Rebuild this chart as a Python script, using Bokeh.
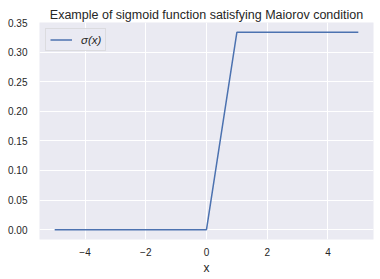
from bokeh.plotting import figure
from bokeh.embed import file_html
from bokeh.resources import INLINE
from bokeh.models import FixedTicker, Range1d, Legend, LegendItem, NumeralTickFormatter

# data (piecewise-linear sigmoid)
x_vals = [-5.0, 0.0, 1.0, 5.0]
y_vals = [0.0, 0.0, 1/3, 1/3]
x_ticks = [-4, -2, 0, 2, 4]
x_tick_labels = {-4: "\u22124", -2: "\u22122", 0: "0", 2: "2", 4: "4"}
y_ticks = [0.0, 0.05, 0.10, 0.15, 0.20, 0.25, 0.30, 0.35]
title_text = "Example of sigmoid function satisfying Maiorov condition"
series_label = "\u03c3(x)"

FONT = "Liberation Sans"
TXT = "#262626"

p = figure(frame_width=334, frame_height=217, output_backend="svg", toolbar_location=None,
           x_range=Range1d(-5.5, 5.5), y_range=Range1d(-1/60, 0.35),
           min_border_left=39, min_border_right=3, min_border_top=22, min_border_bottom=36)

p.title.text = title_text
p.title.align = "center"
p.title.text_font = FONT
p.title.text_font_size = "12.5px"
p.title.text_font_style = "normal"
p.title.text_color = TXT
p.title.standoff = 2
p.title.offset = 0

p.background_fill_color = "#eaeaf2"
p.border_fill_color = "white"
p.outline_line_color = None

for ax in (p.xaxis[0], p.yaxis[0]):
    ax.axis_line_color = None
    ax.major_tick_line_color = None
    ax.minor_tick_line_color = None
    ax.major_tick_out = 0
    ax.major_tick_in = 0
    ax.major_label_text_font = FONT
    ax.major_label_text_font_size = "10px"
    ax.major_label_text_color = TXT

p.xaxis.ticker = FixedTicker(ticks=x_ticks)
p.xaxis.major_label_overrides = x_tick_labels
p.xaxis.major_label_standoff = 8
p.xaxis.axis_label = "x"
p.xaxis.axis_label_text_font = FONT
p.xaxis.axis_label_text_font_size = "12px"
p.xaxis.axis_label_text_font_style = "normal"
p.xaxis.axis_label_text_color = TXT
p.xaxis.axis_label_standoff = 2

p.yaxis.ticker = FixedTicker(ticks=y_ticks)
p.yaxis.formatter = NumeralTickFormatter(format="0.00")
p.yaxis.major_label_standoff = 12

p.xgrid.ticker = FixedTicker(ticks=x_ticks)
p.ygrid.ticker = FixedTicker(ticks=y_ticks)
p.grid.grid_line_color = "white"
p.grid.grid_line_width = 1

r = p.line(x_vals, y_vals, line_color="#4c72b0", line_width=1.5)

legend = Legend(items=[LegendItem(label=series_label, renderers=[r])],
                location="top_left")
legend.label_text_font = FONT
legend.label_text_font_size = "11.5px"
legend.label_text_font_style = "italic"
legend.label_text_color = TXT
legend.background_fill_color = "#eaeaf2"
legend.background_fill_alpha = 0.8
legend.border_line_color = "#cccccc"
legend.margin = 6
legend.padding = 4
legend.glyph_width = 22
legend.glyph_height = 13
legend.label_height = 13
legend.label_standoff = 9
p.add_layout(legend)

open("out.html", "w").write(file_html(p, INLINE))
